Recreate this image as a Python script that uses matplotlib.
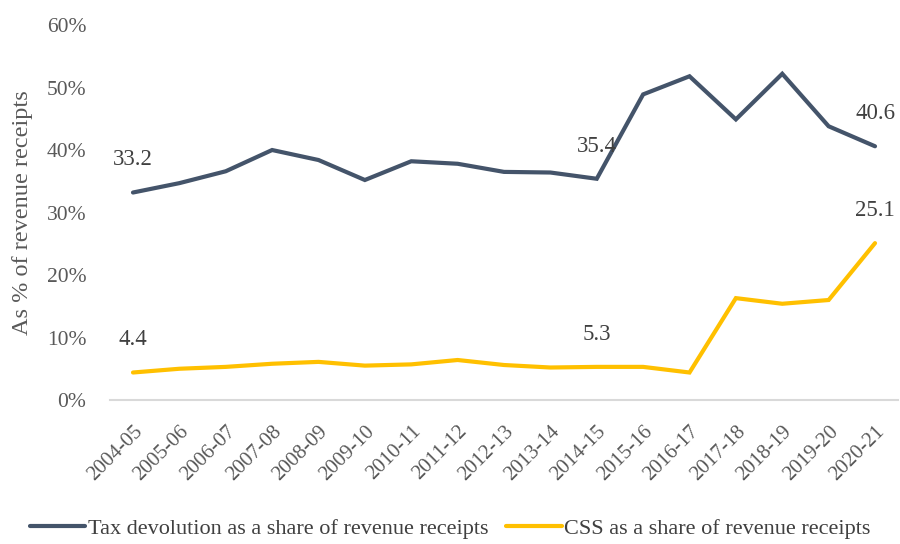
import matplotlib
matplotlib.use("Agg")
import matplotlib.pyplot as plt
from matplotlib.ticker import FuncFormatter

years = ["2004-05", "2005-06", "2006-07", "2007-08", "2008-09", "2009-10", "2010-11",
         "2011-12", "2012-13", "2013-14", "2014-15", "2015-16", "2016-17", "2017-18",
         "2018-19", "2019-20", "2020-21"]
tax_devolution = [33.2, 34.7, 36.6, 40.0, 38.4, 35.2, 38.2, 37.8, 36.5, 36.4, 35.4,
                  48.9, 51.8, 44.9, 52.2, 43.8, 40.6]
css = [4.4, 5.0, 5.3, 5.8, 6.1, 5.5, 5.7, 6.4, 5.6, 5.2, 5.3, 5.3, 4.4, 16.3, 15.4,
       16.0, 25.1]
labeled_idx = [0, 10, 16]

plt.rcParams['font.family'] = ['Liberation Serif', 'DejaVu Serif']
text_color = "#595959"

fig = plt.figure(figsize=(9, 5.44), dpi=100)
ax = fig.add_axes([0.122, 0.2647, 0.876, 0.6893])

x = list(range(len(years)))
ax.plot(x, tax_devolution, color="#44546A", lw=3.0, solid_capstyle="round",
        solid_joinstyle="miter", label="Tax devolution as a share of revenue receipts")
ax.plot(x, css, color="#FFC000", lw=3.0, solid_capstyle="round",
        solid_joinstyle="miter", label="CSS as a share of revenue receipts")

for i in labeled_idx:
    ax.annotate(f"{tax_devolution[i]:.1f}", (x[i], tax_devolution[i]), xytext=(0, 23.5),
                textcoords="offset points", ha="center", va="center",
                fontsize=16.5, color="#404040")
    ax.annotate(f"{css[i]:.1f}", (x[i], css[i]), xytext=(0, 23.5),
                textcoords="offset points", ha="center", va="center",
                fontsize=16.5, color="#404040")

ax.set_xlim(-0.5, len(years) - 0.5)
ax.set_ylim(0, 60)
ax.set_yticks(range(0, 61, 10))
ax.yaxis.set_major_formatter(FuncFormatter(lambda v, p: f"{int(v)}%"))
ax.set_xticks(x)
ax.set_xticklabels(years, rotation=45, ha="right", rotation_mode="anchor",
                   fontsize=15, color=text_color)
for lbl in ax.get_yticklabels():
    lbl.set_fontsize(15.5)
    lbl.set_color(text_color)

ax.tick_params(axis="both", length=0)
ax.tick_params(axis="y", pad=17)
ax.tick_params(axis="x", pad=16)
for s in ["top", "right", "left"]:
    ax.spines[s].set_visible(False)
ax.spines["bottom"].set_color("#D9D9D9")
ax.spines["bottom"].set_linewidth(1.5)

ax.set_ylabel("As % of revenue receipts", fontsize=17.5, color=text_color, labelpad=10)

fig.legend(loc="center", bbox_to_anchor=(0.5, 0.029), ncol=2, frameon=False,
           fontsize=16, handlelength=2.5, handletextpad=0.1, columnspacing=0.8,
           labelcolor="#404040")

fig.savefig("out.png", dpi=100)
